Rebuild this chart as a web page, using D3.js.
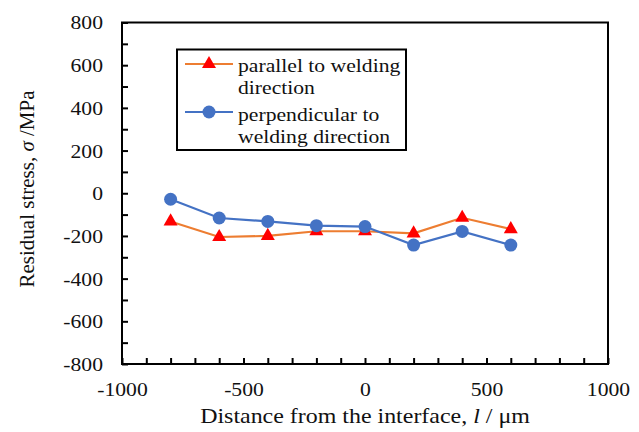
<!DOCTYPE html>
<html><head><meta charset="utf-8">
<script src="https://cdn.jsdelivr.net/npm/d3@7"></script>
<style>html,body{margin:0;padding:0;background:#fff;}svg{display:block;}
svg text{font-family:"Liberation Serif","Times New Roman",Times,"DejaVu Serif",serif;}
</style>
</head><body>
<svg id="c" width="639" height="432"></svg>
<script>
const distances = [-800, -600, -400, -200, 0, 200, 400, 600];
const parallelStress = [-132, -205, -200, -178, -178, -188, -115, -168];
const perpendicularStress = [-28, -116, -132, -152, -156, -243, -179, -243];
const xTickValues = d3.range(-1000, 1001, 100);
const xTickLabels = [-1000, -500, 0, 500, 1000];
const yTickValues = d3.range(-800, 801, 100);
const yTickLabels = [-800, -600, -400, -200, 0, 200, 400, 600, 800];
const legendParallel = ["parallel to welding", "direction"];
const legendPerp = ["perpendicular to", "welding direction"];

const FONT = '"Liberation Serif","Times New Roman",Times,"DejaVu Serif",serif';
const SX = 1.14;
const svg = d3.select("#c");
svg.append("rect").attr("width", 639).attr("height", 432).attr("fill", "#fff");

const L = 122, R = 608, T = 22.5, B = 364;
const x = d3.scaleLinear().domain([-1000, 1000]).range([L, R]);
const y = d3.scaleLinear().domain([-800, 800]).range([B, T]);

// x axis
const gx = svg.append("g").attr("transform", `translate(0,${B})`)
  .call(d3.axisBottom(x).tickValues(xTickValues).tickSizeInner(-6).tickSizeOuter(0)
    .tickFormat(d => xTickLabels.includes(d) ? String(d) : ""));
gx.attr("font-family", null).attr("font-size", null);
gx.select(".domain").remove();
gx.selectAll("line").attr("stroke", "#000").attr("stroke-width", 2);
gx.selectAll("text").attr("dy", null).attr("y", 32)
  .style("font-family", FONT).style("font-size", "19px").attr("fill", "#111")
  .attr("transform", `scale(${SX},1)`);

// y axis
const gy = svg.append("g").attr("transform", `translate(${L},0)`)
  .call(d3.axisLeft(y).tickValues(yTickValues).tickSizeInner(-6).tickSizeOuter(0)
    .tickFormat(d => yTickLabels.includes(d) ? String(d) : ""));
gy.attr("font-family", null).attr("font-size", null);
gy.select(".domain").remove();
gy.selectAll("line").attr("stroke", "#000").attr("stroke-width", 2);
gy.selectAll("text").attr("x", -19 / SX).attr("dy", "0.34em")
  .style("font-family", FONT).style("font-size", "19px").attr("fill", "#111")
  .attr("transform", `scale(${SX},1)`);

// frame
svg.append("rect").attr("x", L).attr("y", T).attr("width", R - L).attr("height", B - T)
  .attr("fill", "none").attr("stroke", "#000").attr("stroke-width", 2);

const line = d3.line().x(d => x(d[0])).y(d => y(d[1]));
const tri = d3.symbol().type(d3.symbolTriangle).size(85);
const parData = distances.map((d, i) => [d, parallelStress[i]]);
const perData = distances.map((d, i) => [d, perpendicularStress[i]]);

svg.append("path").datum(parData).attr("d", line).attr("fill", "none")
  .attr("stroke", "#ED7D31").attr("stroke-width", 2.2);
svg.selectAll(".tri").data(parData).join("path").attr("class", "tri")
  .attr("d", tri).attr("transform", d => `translate(${x(d[0])},${y(d[1])})`).attr("fill", "#FF0000");

svg.append("path").datum(perData).attr("d", line).attr("fill", "none")
  .attr("stroke", "#4472C4").attr("stroke-width", 2.2);
svg.selectAll(".dot").data(perData).join("circle").attr("class", "dot")
  .attr("cx", d => x(d[0])).attr("cy", d => y(d[1])).attr("r", 6.5).attr("fill", "#4472C4");

// legend
const lg = svg.append("g");
lg.append("rect").attr("x", 177).attr("y", 49.5).attr("width", 229).attr("height", 100.5)
  .attr("fill", "#fff").attr("stroke", "#000").attr("stroke-width", 2);
lg.append("line").attr("x1", 185).attr("x2", 233).attr("y1", 64).attr("y2", 64)
  .attr("stroke", "#ED7D31").attr("stroke-width", 2.2);
lg.append("path").attr("d", tri).attr("transform", "translate(209,64)").attr("fill", "#FF0000");
lg.append("line").attr("x1", 185).attr("x2", 233).attr("y1", 112).attr("y2", 112)
  .attr("stroke", "#4472C4").attr("stroke-width", 2.2);
lg.append("circle").attr("cx", 209).attr("cy", 112).attr("r", 6.5).attr("fill", "#4472C4");
const legLines = [[legendParallel[0], 72], [legendParallel[1], 94], [legendPerp[0], 121], [legendPerp[1], 143]];
legLines.forEach(([t, by]) => {
  lg.append("text").attr("transform", `translate(238,${by}) scale(${SX},1)`)
    .style("font-family", FONT).style("font-size", "19px").attr("fill", "#111").text(t);
});

// axis titles
const xt = svg.append("text").attr("transform", `translate(365,423) scale(${SX},1)`)
  .attr("text-anchor", "middle").style("font-family", FONT).style("font-size", "21px").attr("fill", "#111");
xt.append("tspan").text("Distance from the interface, ");
xt.append("tspan").attr("font-style", "italic").text("l");
xt.append("tspan").text(" / μm");

const yt = svg.append("text").attr("transform", "translate(34,189) rotate(-90)")
  .attr("text-anchor", "middle").style("font-family", FONT).style("font-size", "21px").attr("fill", "#111");
yt.append("tspan").text("Residual stress, ");
yt.append("tspan").attr("font-style", "italic").text("σ");
yt.append("tspan").text(" /MPa");
</script>
</body></html>
